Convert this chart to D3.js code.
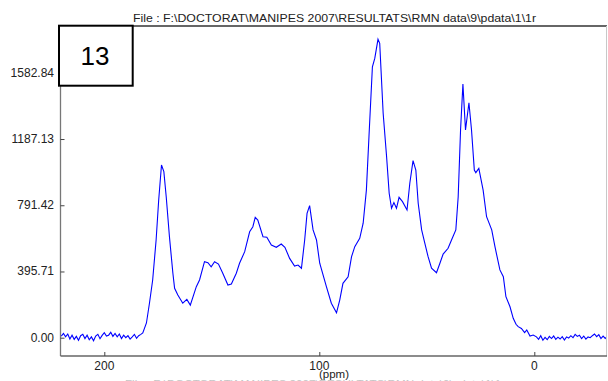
<!DOCTYPE html>
<html><head><meta charset="utf-8">
<script src="https://cdn.jsdelivr.net/npm/d3@7"></script>
<style>
html,body{margin:0;padding:0;background:#fff;}
svg{display:block;font-family:"Liberation Sans",Arial,sans-serif;}
</style></head>
<body><svg id="c" width="608" height="381"></svg>
<script>
const titleText = "File : F:\\DOCTORAT\\MANIPES 2007\\RESULTATS\\RMN data\\9\\pdata\\1\\1r";
const xTicks = [200, 100, 0];
const yTicks = [0.00, 395.71, 791.42, 1187.13, 1582.84];
const xLabel = "(ppm)";
const boxLabel = "13";

const ppm = [220,219,218,217,216,215,214,213,212,211,210,209,208,207,206,205,204,203,202,201,200,199,198,197,196,195,194,193,192,191,190,189,188,187,186,185,184,183,
182.1,180.4,179.0,177.5,175.9,174.7,173.4,172.3,171.2,169.7,168.1,167.3,165.8,163.5,161.6,160.0,157.2,155.7,153.4,151.8,150.3,148.7,146.9,144.9,142.5,140.9,138.6,137.1,134.7,132.4,130.9,129.8,128.6,126.2,124.4,122.3,120.0,117.7,116.0,113.8,111.5,109.9,108.3,106.8,105.7,104.5,102.9,101.3,99.8,96.7,94.4,92.0,90.5,89.0,86.6,85.0,83.5,81.2,79.6,78.1,76.9,75.3,74.2,72.7,71.9,70.3,68.7,67.5,66.4,65.3,64.1,62.9,61.3,59.2,57.9,56.4,55.1,54.0,52.4,50.9,49.4,47.8,45.5,43.9,42.4,40.1,38.5,36.5,35.4,34.3,33.2,32.0,30.4,29.2,27.9,27.2,25.8,23.8,22.2,19.8,18.3,16.0,14.4,13.2,11.3,9.8,8.5,7.5,6,4.5,3.5,2,0.5,
-1,-2,-3,-4,-5,-6,-7,-8,-9,-10,-11,-12,-13,-14,-15,-16,-17,-18,-19,-20,-21,-22,-23,-24,-25,-26,-27,-28,-29,-30,-31,-32,-33,-34];
const intensity = [10,25,5,22,-8,15,-10,8,-15,12,20,-5,15,-12,5,-18,10,20,-6,14,30,10,15,32,8,25,5,22,-5,15,0,12,-8,5,20,-4,12,20,
28,88,206,345,584,823,1032,992,842,603,385,295,255,206,229,195,305,345,454,448,424,454,440,385,315,321,385,445,514,633,663,719,703,603,600,554,540,560,540,474,428,434,415,584,743,789,644,584,445,305,206,149,225,325,364,484,544,594,684,882,1201,1619,1669,1783,1759,1341,1081,863,773,807,773,839,813,763,923,1058,1002,803,644,564,484,415,388,445,500,534,584,644,842,1241,1516,1241,1404,1241,1002,986,1012,882,723,644,544,405,364,245,185,116,80,66,55,30,46,10,16,
5,-10,12,-15,2,-12,8,-5,10,-10,3,-8,6,-14,5,-2,12,0,20,8,15,-5,10,-8,5,0,12,22,6,18,-5,10,-4,8];

const svg = d3.select("#c");
const L = 60.5, R = 607, T = 26, B = 356;
const x = d3.scaleLinear().domain([200, 0]).range([104.3, 534.3]);
const y = d3.scaleLinear().domain([0, 1582.84]).range([337.7, 72.8]);

svg.append("defs").append("clipPath").attr("id","clip")
  .append("rect").attr("x",L).attr("y",T).attr("width",R-L).attr("height",B-T);

// spectrum
const pts = ppm.map((p,i)=>[p,intensity[i]]);
svg.append("path").attr("clip-path","url(#clip)")
  .attr("d", d3.line().x(d=>x(d[0])).y(d=>y(d[1]))(pts))
  .attr("fill","none").attr("stroke","#0000ff").attr("stroke-width",1.1);

// frame
svg.append("line").attr("x1",L).attr("x2",R).attr("y1",T).attr("y2",T).attr("stroke","#333").attr("stroke-width",1.5);
svg.append("line").attr("x1",R-0.5).attr("x2",R-0.5).attr("y1",T).attr("y2",B).attr("stroke","#c8c8c8").attr("stroke-width",1);

// y axis
const ya = svg.append("g").attr("transform",`translate(${L},0)`)
  .call(d3.axisRight(y).tickValues(yTicks).tickSize(4).tickFormat(""));
ya.select(".domain").attr("stroke","#777").attr("stroke-width",1.3).attr("d",`M0,${T}V${B}`);
ya.selectAll(".tick line").attr("stroke","#444");
svg.append("g").selectAll("text").data(yTicks).join("text")
  .attr("x",54).attr("y",d=>y(d)+4).attr("text-anchor","end")
  .attr("font-size",12).attr("fill","#222").text(d=>d.toFixed(2));

// x axis
const xa = svg.append("g").attr("transform",`translate(0,${B})`)
  .call(d3.axisTop(x).tickValues(xTicks).tickSize(4).tickFormat(""));
xa.select(".domain").attr("stroke","#666").attr("stroke-width",1.3).attr("d",`M${L},0H${R}`);
xa.selectAll(".tick line").attr("stroke","#444");
svg.append("g").selectAll("text").data(xTicks).join("text")
  .attr("x",d=>x(d)).attr("y",369.5).attr("text-anchor","middle")
  .attr("font-size",12).attr("fill","#222").text(d=>d);
svg.append("text").attr("x",334).attr("y",378).attr("text-anchor","middle")
  .attr("font-size",11.5).attr("fill","#222").text(xLabel);

// title and faded footer
svg.append("text").attr("x",133).attr("y",22).attr("font-size",11).attr("fill","#222")
  .attr("textLength",403).attr("lengthAdjust","spacingAndGlyphs").text(titleText);
svg.append("text").attr("x",125).attr("y",388).attr("font-size",11).attr("fill","#c4c4c4")
  .attr("textLength",380).attr("lengthAdjust","spacingAndGlyphs").text(titleText);

// box label
svg.append("rect").attr("x",59).attr("y",25.7).attr("width",73.7).attr("height",60)
  .attr("fill","#fff").attr("stroke","#000").attr("stroke-width",2);
svg.append("text").attr("x",95).attr("y",64.5).attr("text-anchor","middle")
  .attr("font-size",26).attr("fill","#000").text(boxLabel);
</script></body></html>
